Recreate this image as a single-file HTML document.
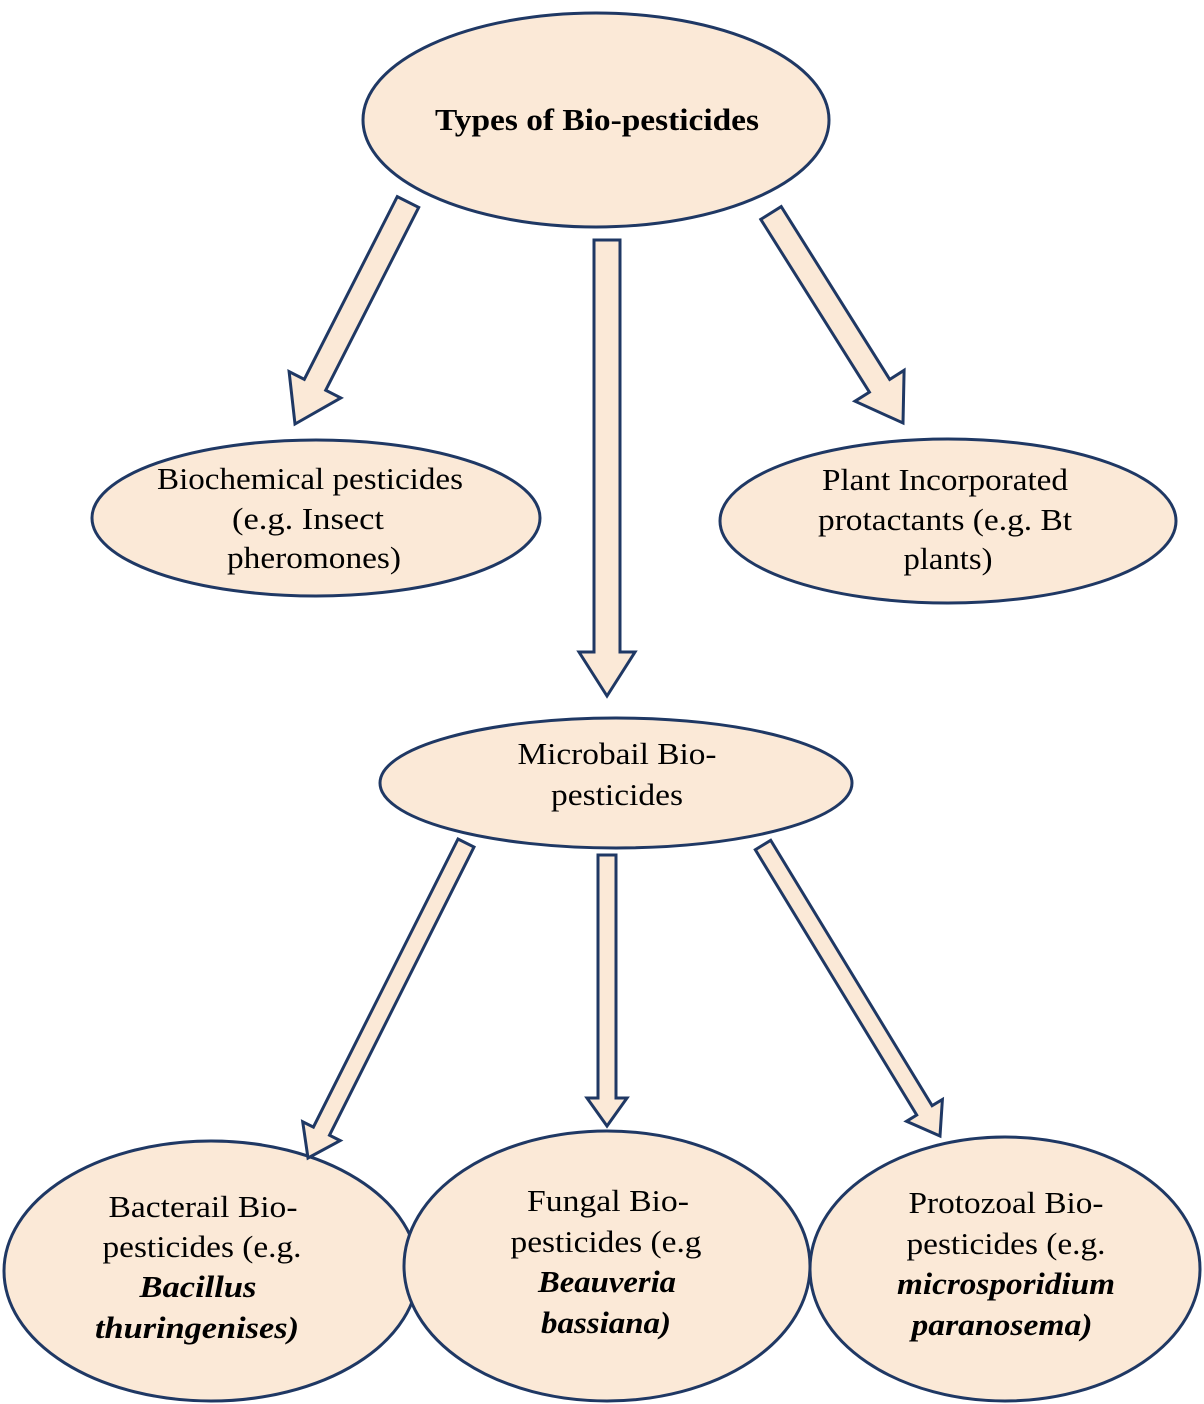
<!DOCTYPE html>
<html><head><meta charset="utf-8"><style>
html,body{margin:0;padding:0;background:#fff;}
svg{display:block;}
text{font-family:"Liberation Serif",serif;font-size:31px;fill:#000;}
</style></head><body>
<svg id="s" width="1204" height="1404" viewBox="0 0 1204 1404" xmlns="http://www.w3.org/2000/svg">
<g fill="#fbe9d7" stroke="#1f3864" stroke-width="3">
<ellipse cx="596" cy="120" rx="233" ry="107"/>
<ellipse cx="316" cy="518" rx="224" ry="78"/>
<ellipse cx="948" cy="521" rx="228" ry="82"/>
<ellipse cx="616" cy="783" rx="236" ry="65"/>
<ellipse cx="211" cy="1271" rx="207" ry="130"/>
<ellipse cx="607" cy="1266" rx="203" ry="135"/>
<ellipse cx="1005" cy="1269" rx="195" ry="132"/>
</g>
<g id="arrows" fill="#fbe9d7" stroke="#1f3864" stroke-width="3" stroke-linejoin="miter"></g>
<g text-anchor="middle">
<text x="597" y="130" font-weight="bold" textLength="324" lengthAdjust="spacingAndGlyphs">Types of Bio-pesticides</text>
<text x="310" y="489" textLength="306" lengthAdjust="spacingAndGlyphs">Biochemical pesticides</text>
<text x="308" y="529" textLength="152" lengthAdjust="spacingAndGlyphs">(e.g. Insect</text>
<text x="314" y="568" textLength="174" lengthAdjust="spacingAndGlyphs">pheromones)</text>
<text x="945" y="490" textLength="246" lengthAdjust="spacingAndGlyphs">Plant Incorporated</text>
<text x="945" y="530" textLength="254" lengthAdjust="spacingAndGlyphs">protactants (e.g. Bt</text>
<text x="948" y="569" textLength="89" lengthAdjust="spacingAndGlyphs">plants)</text>
<text x="617" y="764" textLength="199" lengthAdjust="spacingAndGlyphs">Microbail Bio-</text>
<text x="617" y="805" textLength="132" lengthAdjust="spacingAndGlyphs">pesticides</text>
<text x="203" y="1217" textLength="189" lengthAdjust="spacingAndGlyphs">Bacterail Bio-</text>
<text x="202" y="1257" textLength="199" lengthAdjust="spacingAndGlyphs">pesticides (e.g.</text>
<text x="198" y="1297" font-weight="bold" font-style="italic" textLength="117" lengthAdjust="spacingAndGlyphs">Bacillus</text>
<text x="197" y="1338" font-weight="bold" font-style="italic" textLength="204" lengthAdjust="spacingAndGlyphs">thuringenises)</text>
<text x="608" y="1211" textLength="162" lengthAdjust="spacingAndGlyphs">Fungal Bio-</text>
<text x="606" y="1252" textLength="191" lengthAdjust="spacingAndGlyphs">pesticides (e.g</text>
<text x="607" y="1292" font-weight="bold" font-style="italic" textLength="138" lengthAdjust="spacingAndGlyphs">Beauveria</text>
<text x="606" y="1333" font-weight="bold" font-style="italic" textLength="130" lengthAdjust="spacingAndGlyphs">bassiana)</text>
<text x="1006" y="1213" textLength="195" lengthAdjust="spacingAndGlyphs">Protozoal Bio-</text>
<text x="1006" y="1254" textLength="199" lengthAdjust="spacingAndGlyphs">pesticides (e.g.</text>
<text x="1006" y="1294" font-weight="bold" font-style="italic" textLength="218" lengthAdjust="spacingAndGlyphs">microsporidium</text>
<text x="1002" y="1335" font-weight="bold" font-style="italic" textLength="181" lengthAdjust="spacingAndGlyphs">paranosema)</text>
</g>
</svg>
<script>
function arrow(x1,y1,x2,y2,sw,hw,hl){
  var dx=x2-x1,dy=y2-y1,L=Math.hypot(dx,dy),ux=dx/L,uy=dy/L,px=-uy,py=ux;
  var bx=x2-ux*hl,by=y2-uy*hl;
  var pts=[[x1+px*sw,y1+py*sw],[bx+px*sw,by+py*sw],[bx+px*hw,by+py*hw],[x2,y2],
  [bx-px*hw,by-py*hw],[bx-px*sw,by-py*sw],[x1-px*sw,y1-py*sw]];
  var p=document.createElementNS("http://www.w3.org/2000/svg","polygon");
  p.setAttribute("points",pts.map(function(a){return a[0].toFixed(1)+","+a[1].toFixed(1)}).join(" "));
  document.getElementById("arrows").appendChild(p);
}
arrow(408,202,295,424,12,29,44);
arrow(607,240,607,696,13,28,44);
arrow(771,213,903,423,12,29,44);
arrow(466,843,308,1158,9,21,30);
arrow(607,855,607,1126,9,20,28);
arrow(763,845,940,1136,9,21,30);
</script>
</body></html>
